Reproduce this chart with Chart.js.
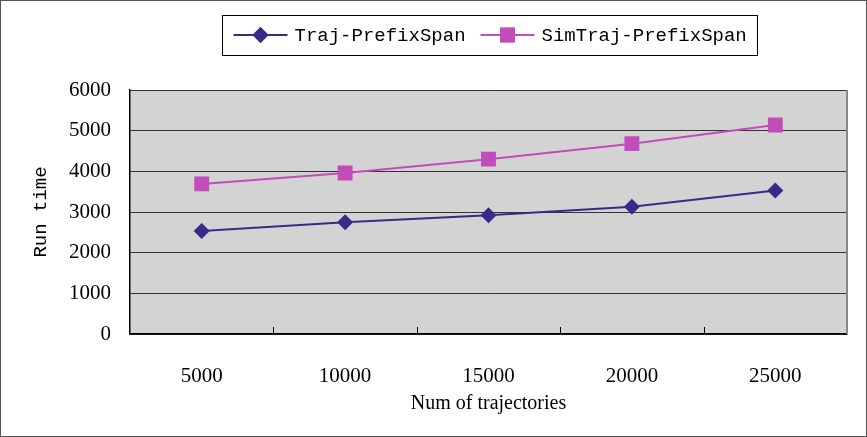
<!DOCTYPE html>
<html>
<head>
<meta charset="utf-8">
<script src="https://cdn.jsdelivr.net/npm/chart.js@4/dist/chart.umd.min.js"></script>
<style>
  html, body { margin: 0; padding: 0; background: #fff; }
  #wrap { width: 867px; height: 437px; }
</style>
</head>
<body>
<div id="wrap"><canvas id="runChart" width="867" height="437"></canvas></div>
<script>
// data
const categories = ['5000', '10000', '15000', '20000', '25000'];
const trajValues = [2530, 2750, 2920, 3130, 3530];
const simTrajValues = [3690, 3960, 4300, 4680, 5140];
const seriesNames = ['Traj-PrefixSpan', 'SimTraj-PrefixSpan'];
const seriesColors = ['#3b2988', '#c24cb9'];
const seriesMarkers = ['rectRot', 'rect'];

// gray plot area, frame and the little category ticks
const plotFrame = {
    id: 'plotFrame',
    beforeDraw(chart) {
        const { ctx, chartArea: a } = chart;
        ctx.save();
        ctx.fillStyle = '#fff';
        ctx.fillRect(0, 0, chart.width, chart.height);
        ctx.fillStyle = '#d3d3d3';
        ctx.fillRect(a.left, a.top, a.right - a.left, a.bottom - a.top);
        ctx.strokeStyle = '#555';
        ctx.lineWidth = 1;
        ctx.strokeRect(0.5, 0.5, chart.width - 1, chart.height - 1);
        ctx.restore();
    },
    afterDatasetsDraw(chart) {
        const { ctx, chartArea: a } = chart;
        const x = chart.scales.x;
        ctx.save();
        ctx.strokeStyle = '#888';
        ctx.lineWidth = 2;
        ctx.beginPath();
        ctx.moveTo(a.right, a.top);
        ctx.lineTo(a.right, a.bottom);
        ctx.stroke();
        ctx.strokeStyle = '#000';
        ctx.lineWidth = 1;
        ctx.beginPath();
        for (let i = 1; i < categories.length; i++) {
            const px = Math.round((x.getPixelForValue(i - 1) + x.getPixelForValue(i)) / 2) + 0.5;
            ctx.moveTo(px, a.bottom);
            ctx.lineTo(px, a.bottom - 7);
        }
        ctx.stroke();
        ctx.restore();
    }
};

// boxed legend with line + marker samples
const boxLegend = {
    id: 'boxLegend',
    afterDraw(chart) {
        const ctx = chart.ctx;
        ctx.save();
        ctx.font = '19px "Liberation Mono"';
        const lineLen = 54, gap = 7, itemGap = 15, pad = 11;
        const widths = seriesNames.map(n => ctx.measureText(n).width);
        let total = pad * 2 + widths.reduce((s, w) => s + w, 0) + seriesNames.length * (lineLen + gap) + itemGap * (seriesNames.length - 1);
        const cx = 490, cy = 35, h = 40;
        const left = Math.round(cx - total / 2) + 0.5;
        ctx.fillStyle = '#fff';
        ctx.fillRect(left, cy - h / 2, total, h);
        ctx.strokeStyle = '#000';
        ctx.lineWidth = 1;
        ctx.strokeRect(left, Math.round(cy - h / 2) + 0.5, Math.round(total), h);
        let x = left + pad;
        seriesNames.forEach((name, i) => {
            ctx.strokeStyle = seriesColors[i];
            ctx.lineWidth = 2;
            ctx.beginPath();
            ctx.moveTo(x, cy);
            ctx.lineTo(x + lineLen, cy);
            ctx.stroke();
            ctx.fillStyle = seriesColors[i];
            Chart.helpers.drawPoint(ctx, { pointStyle: seriesMarkers[i], radius: i === 0 ? 8 : 10.5, borderWidth: 0 }, x + lineLen / 2, cy);
            ctx.fill();
            x += lineLen + gap;
            ctx.fillStyle = '#000';
            ctx.textBaseline = 'middle';
            ctx.fillText(name, x, cy + 1);
            x += widths[i] + itemGap;
        });
        ctx.restore();
    }
};

const ctx = document.getElementById('runChart').getContext('2d');
const runChart = new Chart(ctx, {
    type: 'line',
    data: {
        labels: categories,
        datasets: [{
            label: seriesNames[0],
            data: trajValues,
            borderColor: seriesColors[0],
            backgroundColor: seriesColors[0],
            borderWidth: 2,
            pointStyle: seriesMarkers[0],
            pointRadius: 8,
            pointBorderWidth: 0,
            tension: 0
        }, {
            label: seriesNames[1],
            data: simTrajValues,
            borderColor: seriesColors[1],
            backgroundColor: seriesColors[1],
            borderWidth: 2,
            pointStyle: seriesMarkers[1],
            pointRadius: 10.5,
            pointBorderWidth: 0,
            tension: 0
        }]
    },
    options: {
        responsive: false,
        animation: false,
        layout: { padding: { top: 90, right: 20, left: 0, bottom: 0 } },
        plugins: {
            legend: { display: false },
            tooltip: { enabled: false }
        },
        scales: {
            x: {
                offset: true,
                grid: { display: false },
                border: { display: true, color: '#000', width: 1.5 },
                ticks: { color: '#000', padding: 22, font: { family: '"Liberation Serif"', size: 21 } },
                title: {
                    display: true,
                    text: 'Num of trajectories',
                    color: '#000',
                    font: { family: '"Liberation Serif"', size: 20 },
                    padding: { top: 21, bottom: 21 }
                },
                afterFit(s) { s.height = 103; }
            },
            y: {
                min: 0,
                max: 6000,
                ticks: {
                    stepSize: 1000,
                    color: '#000',
                    padding: 19,
                    font: { family: '"Liberation Serif"', size: 21 },
                    callback: v => String(v)
                },
                grid: { color: '#333', lineWidth: 1, drawTicks: false },
                border: { display: true, color: '#000', width: 1.5 },
                title: {
                    display: true,
                    text: 'Run time',
                    color: '#000',
                    font: { family: '"Liberation Mono"', size: 19 },
                    padding: { top: 30, bottom: 0 }
                },
                afterFit(s) { s.width = 130; }
            }
        }
    },
    plugins: [plotFrame, boxLegend]
});
</script>
</body>
</html>
